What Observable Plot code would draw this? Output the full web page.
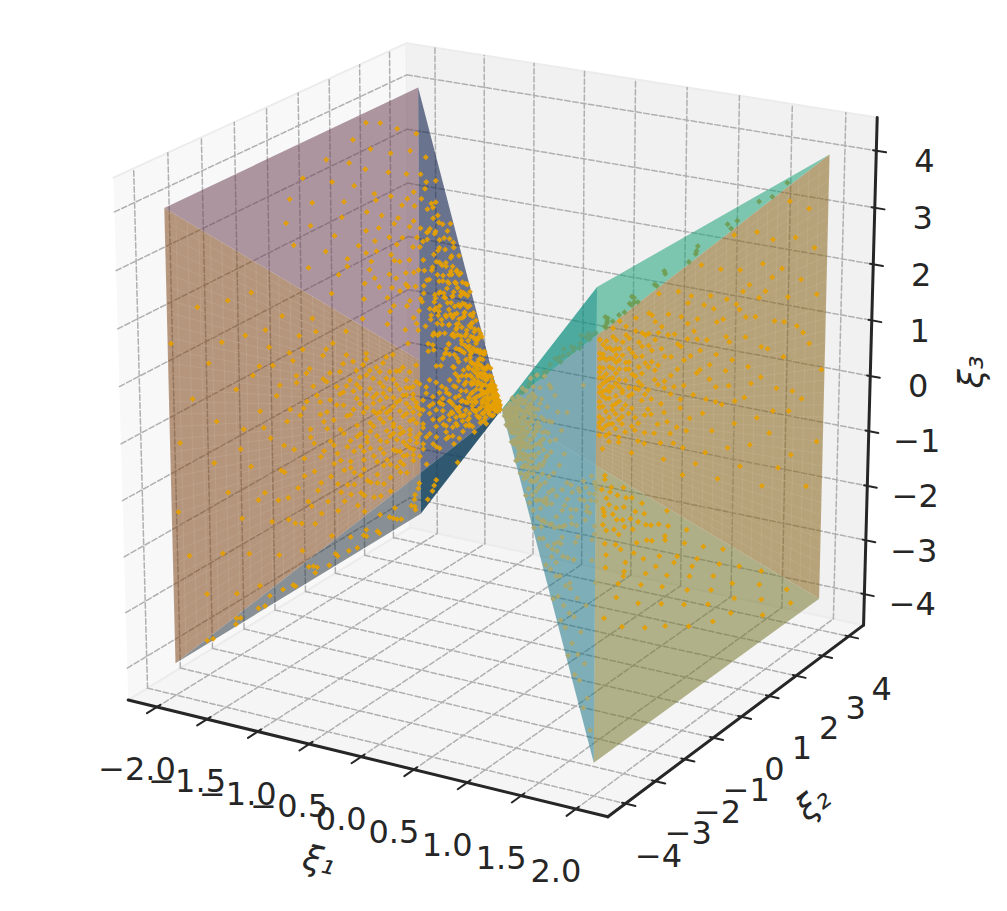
<!doctype html><html><head><meta charset="utf-8">
<script src="https://cdn.jsdelivr.net/npm/d3@7"></script>
<script src="https://cdn.jsdelivr.net/npm/@observablehq/plot@0.6"></script>
<style>html,body{margin:0;background:#fff}</style></head><body><div id="chart"></div>
<script>
// Tick values
const xiTicks1=[-2,-1.5,-1,-.5,0,.5,1,1.5,2];
const xiTicks2=[-4,-3,-2,-1,0,1,2,3,4];
const xiTicks3=[-4,-3,-2,-1,0,1,2,3,4];
// Axis limits
const lim1=2.29, lim2=4.58, lim3=4.58;
// Rim of the double pyramid
const rim1=2, rim2=4, rim3=4;
// Scatter samples, one list per pyramid face: flat pairs (s, t)
// s = |xi1|/2, t = position across the face from -1 to 1
const leftFront=[.99,.42,.97,-.02,.95,-.55,.93,.18,.98,-.33,.91,.62,.9,-.78,.88,.36,.87,-.14,.86,.07,.85,-.62,.84,.48,.83,-.31,.82,.71,.81,-.88,.8,.24,.79,-.48,.78,.02,.77,.55,.77,-.7,.76,-.2,.75,.33,.75,.81,.74,-.93,.73,.12,.72,-.38,.71,.62,.7,-.58,.7,-.05,.69,.41,.68,-.82,.68,.22,.67,-.27,.66,.75,.65,-.47,.65,.05,.64,.52,.63,-.67,.63,-.15,.62,.32,.61,-.9,.61,.66,.6,-.36,.6,.14,.59,-.56,.58,.44,.58,-.08,.57,-.76,.57,.83,.56,.24,.55,-.25,.55,-.46,.54,.57,.54,.03,.53,-.64,.53,.36,.52,-.14,.52,-.95,.51,.7,.51,-.34,.5,.17,.5,-.53,.49,.47,.49,-.05,.48,-.72,.48,.29,.47,-.22,.47,.86,.46,-.43,.46,.08,.45,.6,.45,-.61,.44,-.84,.44,.38,.43,-.12,.43,.19,.42,-.31,.42,-.5,.41,.73,.41,.5,.4,-.02,.4,-.68,.39,.27,.39,-.4,.38,-.18,.38,.62,.37,-.91,.37,.1,.36,-.56,.36,.41,.35,-.28,.35,.79,.34,-.76,.34,.02,.33,.53,.33,-.1,.32,-.45,.32,.23,.31,-.62,.31,.68,.3,-.2,.3,.34,.29,-.84,.29,.07,.28,.47,.28,-.36,.27,-.03,.27,-.53,.26,.18,.26,.88,.25,-.7,.25,.58,.24,-.14,.24,.3,.23,-.4,.23,-.93,.22,.05,.22,.72,.21,-.6,.21,.4,.2,-.25,.2,.12,.19,.52,.19,-.78,.18,-.06,.18,.25,.17,-.46,.17,.66,.16,-.16,.16,.36,.15,-.66,.15,.02,.14,.84,.14,-.32,.13,.2,.13,-.86,.12,.46,.12,-.1,.11,-.52,.11,.1,.1,.62,.1,-.26,.09,.3,.09,-.72,.08,.0,.08,.5,.07,-.4,.07,.16,.06,.78,.06,-.18,.05,-.6,.05,.38,.04,.04,.04,-.3,.03,.6,.03,-.8,.02,.2,.02,-.1,
.43,-.73,.31,.11,.57,.31,.37,-.34,.66,-.11,.29,.58,.48,-.09,.52,.21,.34,-.59,.41,.15,.62,-.43,.33,.86,.45,.31,.39,-.87,.55,-.71,.27,.38,.61,.09,.36,-.03,.47,.64,.31,-.47,.73,.39,.42,-.95,.51,.04,.35,.28,.58,-.61,.44,.52,.28,-.19,.67,.29,.38,.08,.49,-.33,.32,.66,.54,-.21,.41,-.64,.3,.03,.79,-.09,.46,.41,.34,-.22,.56,.74,.27,-.71,.63,.47,.4,.36,.36,.7,.5,-.77,.43,-.25,.29,.22,.6,-.23,.37,.45,.26,-.44,.53,.11,.45,-.49,.33,.17,.7,.52,.39,-.06,.31,-.77,.48,.17,.42,.6,.57,-.35,.28,.72,.35,-.51,.65,-.62,.44,-.03,.3,-.35,.38,.31,.52,.44,.24,.12,.47,-.58,.34,.39,.41,-.17,.59,.19,.32,-.29,.74,-.41,.27,.5,.45,.13,.36,-.79,.55,.09,.29,-.57,.4,.56,.49,.27,.33,-.06,.61,-.7,.43,.46,.26,-.1,.37,.58,.51,-.18,.31,.42,.46,-.69,.25,-.3,.68,-.46,.39,.2,.35,-.14,.54,.38,.28,.16,.42,-.4,.3,.75,.64,.13,.33,-.41,.48,.55,.37,-.24,.27,.3,.58,-.02,.41,.29,.32,-.67,.56,-.51,.24,-.51,.44,.24,.36,.15,.5,-.26,.29,-.42,.38,-.63,.62,.37,.31,.26,.46,-.17,.25,.04,.53,.63,.34,-.94,.42,.1,.28,-.05,.4,-.3,.72,.02,.35,.52,.47,.35,.3,-.69,.43,-.55,.6,.57,.26,.6,.38,-.48,.52,-.44,.33,.29,.45,-.28,.24,-.21,.37,.02,.55,.19,.29,.35,.41,.67,.31,-.13,.49,-.62,.27,-.62,.39,.48,.66,-.29,.35,.09,.44,-.14,.23,.44,.5,.33,.32,.47,.42,-.78,.28,-.27,.36,-.41,.57,-.13,.26,.25,.47,.07,.34,.62,.4,-.11,.3,-.56,.59,.4,.38,-.73,.25,.14,.46,-.37,.33,-.19,.43,.35,.53,-.03,.29,.46,.37,.24,.22,-.36,.41,-.22,.48,-.43,.31,-.22,.36,.33,.27,.09,.21,.25,.39,.11,.26,-.35,.2,-.48,.34,.12,.23,.56,.19,-.11,.28,-.48,.18,.4,.24,-.6,.22,.2,.17,-.3,.21,-.08,.16,.55,.2,-.7,.19,.3,.15,-.4,.18,.1,.14,.2,.17,-.64,.13,.6,.16,-.02,.12,-.3,.15,.28,.11,.42,.14,-.12,.1,-.6,.13,.04];
const leftTop=[.97,.53,.95,.63,.94,.38,.92,.12,.91,.74,.9,-.12,.89,.47,.88,.26,.87,.88,.86,-.32,.85,.05,.85,.61,.84,.35,.83,.78,.82,-.2,.81,.19,.8,.52,.8,-.5,.79,.9,.78,.03,.77,.67,.76,-.36,.76,.31,.75,.8,.74,-.08,.73,.44,.73,-.62,.72,.15,.71,.93,.7,.58,.7,-.26,.69,.26,.68,.72,.67,-.45,.67,.03,.66,.4,.65,.86,.65,-.72,.64,-.14,.63,.54,.62,.2,.62,-.34,.61,.77,.6,-.02,.6,.33,.59,-.56,.58,.65,.57,.1,.57,.96,.56,-.24,.55,.47,.55,-.82,.54,.82,.53,.26,.53,-.42,.52,-.08,.51,.6,.5,.12,.5,.91,.49,-.6,.48,.37,.48,-.18,.47,.72,.46,-.34,.46,.02,.45,.52,.44,.24,.44,-.88,.43,.84,.42,-.48,.42,-.1,.41,.64,.4,.32,.4,.06,.39,-.7,.38,.96,.38,.45,.37,-.26,.36,.16,.36,.76,.35,-.56,.34,.56,.34,-.02,.33,.3,.33,-.38,.32,.88,.31,-.78,.31,.12,.3,.67,.3,-.16,.29,.42,.28,-.46,.27,.22,.27,.8,.26,-.62,.25,-.05,.25,.54,.24,.32,.23,.95,.23,-.3,.22,.1,.21,.7,.21,-.86,.2,-.14,.2,.4,.19,.62,.18,-.48,.17,.2,.17,.88,.16,-.02,.15,.48,.15,-.7,.14,.3,.13,-.22,.13,.76,.12,.08,.11,.56,.11,-.56,.1,.36,.09,-.1,.08,.68,.08,-.38,.07,.14,.06,.9,.05,-.64,.05,.46,.04,.02,.03,.28,.02,-.3,
.62,.47,.55,.09,.71,.67,.48,.63,.58,-.15,.66,.16,.45,.33,.52,.71,.6,.58,.42,.17,.74,.29,.5,-.31,.64,.81,.47,.02,.56,.39,.41,-.2,.69,.5,.53,.89,.44,.6,.59,.23,.38,-.09,.67,.62,.49,.22,.57,.74,.4,.43,.63,.04,.35,.22,.51,.43,.46,-.12,.72,.83,.6,-.41,.43,.5,.54,.14,.37,.6,.65,.33,.48,.84,.41,.07,.58,.49,.33,-.2,.5,-.04,.44,.75,.56,.6,.39,.3,.61,-.13,.36,.46,.47,.47,.53,-.27,.34,.16,.43,-.36,.59,.82,.3,.53,.42,.9,.49,.3,.38,.66,.32,.04,.45,.12,.28,.38,.4,.76,.35,-.3,.26,.2,.37,.1,.31,.72,.29,-.06,.34,.42,.25,.82,.27,-.4,.23,.5,.3,.26,.21,.15,.24,-.2,.19,.34,.22,-.5,.18,.7,.16,.25,.14,-.4,.12,.5,.1,-.3];
const leftBack=[.92,.62,.9,.42,.89,.55,.87,.2,.86,.48,.85,.02,.84,.64,.83,.3,.82,-.16,.81,.12,.8,.52,.79,-.34,.78,.38,.77,-.05,.76,.68,.75,.22,.74,-.46,.74,.56,.73,-.22,.72,.08,.71,.44,.7,-.6,.7,.72,.69,.28,.68,-.12,.67,.6,.66,-.38,.66,.15,.65,.36,.64,-.7,.64,.78,.63,-.02,.62,.5,.62,-.28,.61,.22,.6,-.52,.6,.66,.59,.08,.58,.4,.58,-.16,.57,-.78,.57,.84,.56,.28,.55,-.4,.55,.56,.54,.02,.53,-.64,.53,.7,.52,.16,.51,-.24,.51,.44,.5,-.48,.5,.9,.49,.06,.48,.62,.48,-.32,.47,.3,.46,-.72,.46,.76,.45,-.1,.44,.5,.44,-.56,.43,.18,.42,.86,.42,-.2,.41,.38,.4,-.42,.4,.66,.39,-.02,.38,-.68,.38,.26,.37,.94,.36,-.3,.36,.54,.35,.1,.34,-.5,.34,.74,.33,-.14,.33,.34,.32,-.82,.32,.6,.31,.04,.3,-.38,.3,.84,.29,.22,.29,-.6,.28,.46,.28,-.06,.27,.7,.26,-.26,.26,.12,.25,-.74,.25,.56,.24,.32,.24,-.46,.23,.92,.23,.0,.22,.64,.22,-.18,.21,.24,.21,-.58,.2,.42,.2,.8,.19,-.34,.19,.08,.18,-.86,.18,.52,.17,-.1,.17,.3,.16,-.5,.16,.72,.15,.14,.15,-.24,.14,.58,.14,-.66,.13,.36,.13,.92,.12,-.02,.12,-.4,.11,.2,.11,.66,.1,-.76,.1,.46,.09,-.14,.09,.1,.08,.82,.08,-.54,.07,.3,.07,-.26,.06,.6,.06,-.04,.05,-.7,.05,.4,.04,.16,.04,-.34,.03,.76,.03,-.1,.02,.5,.02,-.6,
.95,.33,.79,.1,.64,.42,.51,-.07,.72,-.35,.43,.61,.58,.23,.37,.14,.83,-.08,.49,-.56,.67,.27,.4,.79,.55,-.2,.34,-.27,.61,-.44,.46,.41,.76,.47,.31,.52,.53,.33,.42,-.3,.68,.02,.36,.42,.47,-.17,.59,.55,.28,.06,.44,.09,.74,.15,.38,-.55,.52,.57,.33,.82,.63,.12,.4,.2,.49,.46,.57,-.31,.3,-.2,.45,.68,.35,-.4,.7,.35,.41,-.12,.54,.18,.27,.33,.48,-.42,.37,.66,.62,-.09,.32,-.08,.43,.28,.5,.73,.35,.24,.66,.5,.29,.6,.56,-.05,.39,-.36,.25,-.14,.47,.14,.6,.32,.33,.49,.44,-.24,.53,-.5,.27,.83,.38,.5,.31,-.52,.42,.04,.58,.63,.24,.18,.36,-.16,.46,.55,.29,-.3,.4,-.62,.22,.52,.51,.27,.34,.03,.26,-.64,.43,.72,.3,.38,.2,-.12,.37,-.08,.48,.2,.23,-.38,.28,.62,.32,-.34,.21,.7,.25,.42,.35,.62,.19,-.52,.27,-.04,.18,.28,.24,-.22,.3,.14,.17,.6,.22,.34,.2,-.24,.26,.5,.16,-.36,.23,.12,.19,.46,.15,.04,.21,-.74,.14,.24,.18,-.06,.13,-.52,.16,.42,.12,.72,.15,-.42,.11,.36,.17,-.2,.1,.02,.14,-.16,.13,.14,.12,.3,.11,-.3,.1,.6,.09,-.4,.09,.36,.08,.12,.08,-.2,.07,.5,.07,-.6,.06,.2,.06,-.4,.05,.1,.05,.7,.04,-.1,.04,.4];
const leftBottom=[.97,-.78,.96,-.62,.95,-.4,.94,-.9,.93,-.18,.92,.1,.92,-.52,.91,.34,.9,-.72,.9,-.06,.89,.52,.88,-.3,.88,.72,.87,.2,.86,-.86,.86,.84,.85,-.46,.84,.04,.83,.42,.83,.62,.82,-.66,.82,-.2,.81,.92,.8,.26,.79,.76,.78,-.1,.77,.5,.76,-.38,.75,.14,.74,.66,.72,-.54,.7,.86,.7,.34,.68,.02,.66,.58,.64,-.28,.62,.78,.6,.2,.58,.44,.56,-.12,.54,.68,.5,.3,.46,.9,.42,.06];
const rightBack=[.99,.05,.98,-.28,.97,.4,.96,.62,.95,-.5,.95,.18,.94,.82,.93,-.08,.92,.5,.91,.28,.9,-.36,.9,.72,.89,-.14,.88,.44,.88,.92,.87,.14,.86,-.44,.86,.6,.85,-.02,.84,.34,.83,.78,.83,-.26,.82,.2,.81,.52,.81,-.56,.8,.05,.8,.68,.79,-.18,.78,.4,.78,.88,.77,-.34,.76,.12,.76,.6,.75,-.06,.75,.3,.74,-.48,.73,.72,.73,.48,.72,-.22,.71,.18,.71,.96,.7,-.38,.7,.02,.69,.58,.69,.34,.68,-.1,.67,.8,.67,-.6,.66,.24,.66,.46,.65,-.28,.64,.08,.64,.66,.63,-.44,.63,.36,.62,-.16,.61,.92,.61,.16,.6,.54,.6,-.54,.59,-.02,.58,.74,.58,.28,.57,-.3,.57,.42,.56,.06,.56,-.66,.55,.62,.55,-.12,.54,.84,.54,.2,.53,-.42,.53,.5,.52,.0,.52,.32,.51,-.24,.51,.7,.5,-.58,.5,.12,.49,.42,.49,-.08,.48,.58,.48,.94,.47,-.36,.47,.24,.46,.78,.46,-.18,.45,.06,.45,.5,.44,-.48,.44,.34,.43,-.04,.43,.66,.42,-.28,.42,.16,.41,.86,.41,.44,.4,-.62,.4,-.12,.4,.26,.39,.56,.39,.02,.38,-.4,.38,.74,.38,.34,.37,-.22,.37,.1,.36,.48,.36,.96,.36,-.54,.35,.2,.35,-.06,.35,.64,.34,-.32,.34,.4,.34,.82,.33,.02,.33,-.46,.33,.28,.32,.56,.32,-.16,.32,.14,.32,.72,.31,-.7,.31,-.28,.31,.46,.31,.06,.3,.9,.3,-.1,.3,.34,.3,-.4,.3,.62,.3,.2,.25,.3,.2,-.2,.15,.5,.1,-.1,
.34,.53,.37,-.13,.32,-.36,.41,.23,.35,.75,.33,.11,.44,-.19,.31,.61,.39,.41,.36,-.03,.47,.53,.33,-.24,.42,.08,.3,.49,.38,.21,.34,.93,.5,-.16,.31,-.09,.45,.29,.36,.62,.32,.36,.41,-.36,.35,.04,.54,.41,.3,-.52,.39,.68,.43,.24,.33,.7,.37,-.31,.48,.1,.31,.24,.35,.47,.42,.58,.3,-.24,.52,.16,.38,.84,.33,-.57,.46,.33,.36,.15,.31,.8,.44,-.37,.4,.04,.34,.28,.57,.54,.32,-.5,.39,.33,.49,.62,.35,-.19,.43,.42,.3,.12,.37,.52,.55,-.05,.31,-.42,.41,.72,.34,-.08,.47,.15,.36,.37,.6,.39,.33,.44,.45,-.13,.3,.7,.38,-.08,.51,.52,.32,.02,.42,-.47,.35,.56,.64,.18,.31,.33,.4,.5,.48,-.27,.36,-.26,.44,.62,.33,.18,.56,.26,.3,-.33,.39,.12,.46,.44,.34,-.14,.62,.62,.32,.26,.43,.12,.35,.33,.53,.06,.31,.66,.41,-.22,.37,.07,.5,.34,.66,-.08,.33,-.33,.45,.82,.38,.42,.3,-.02,.58,-.2,.34,.64,.42,.32,.49,-.44,.36,.24,.69,.12,.31,.13,.4,-.32,.55,.38,.33,.56,.47,.7,.35,-.38,.61,.3,.44,.02,.37,.68,.52,-.34,.3,.42,.72,.52,.39,-.18,.32,.82,.46,-.03,.63,-.06,.34,.16,.57,.7,.41,.1,.75,.42,.48,.28,.36,-.48,.43,.52,.8,.22,.68,.46,.5,.06,.59,.46,.54,-.28,.77,.02,.66,.02,.45,.62,.83,.58,.7,.3,.6,.14,.87,.32,.74,.58,.93,.24,.9,-.04,.84,-.14,.79,.5,.72,-.08,.65,.56,.56,-.44];
const rightBottom=[.96,.84,.94,.62,.92,.92,.9,.72,.88,.46,.87,.3,.86,.82,.85,.58,.84,.12,.83,.94,.82,.38,.81,.68,.8,-.04,.79,.5,.78,.22,.78,.86,.77,-.2,.76,.62,.75,.34,.74,.06,.74,.76,.73,-.38,.72,.46,.71,.92,.7,.18,.7,-.12,.69,.66,.68,-.5,.68,.3,.67,.82,.66,.02,.65,.54,.65,-.28,.64,.14,.63,.72,.62,-.62,.62,.4,.61,-.08,.6,.88,.6,.24,.59,.6,.58,-.4,.58,.04,.57,.48,.56,-.2,.56,.78,.55,.32,.54,-.7,.54,.1,.53,.64,.52,-.3,.52,.96,.51,.42,.5,-.02,.5,.22,.49,-.52,.49,.72,.48,.52,.47,-.14,.47,.12,.46,.84,.46,.36,.45,-.38,.44,.6,.44,.02,.43,-.6,.43,.26,.42,.76,.41,-.22,.41,.46,.4,.1,.39,.9,.39,-.44,.38,.34,.38,.66,.37,-.06,.36,.18,.35,.54,.35,-.3,.34,.82,.33,.4,.33,-.08,.32,.26,.31,.7,.3,-.5,
.47,.66,.36,.42,.52,.09,.41,.33,.58,.64,.33,.62,.44,-.3,.62,-.18,.39,.08,.5,.56,.35,.13,.43,.5,.56,.44,.37,.76,.34,-.2,.48,.22,.4,.7,.6,-.04,.33,.24,.45,.14,.36,.6,.53,-.1,.38,-.22,.31,.48,.42,.3,.54,.72,.35,.36,.46,-.06,.32,.1,.39,.52,.49,.36,.34,.58,.66,.46,.41,-.04,.37,.28,.3,.2,.57,.2,.43,.82,.36,-.14,.7,.56,.47,.42,.33,.9,.52,.6,.38,.14,.64,.28,.44,.38];
const rightTop=[.94,.78,.9,.62,.86,.88,.83,.5,.8,.7,.76,.38,.74,.84,.7,.56,.68,.22,.66,.7,.63,.4,.6,.86,.58,.1,.56,.52,.54,.28,.52,.74,.5,-.04,.49,.42,.47,.6,.46,.16,.44,.84,.43,-.22,.42,.34,.41,.64,.4,.04,.39,.5,.38,-.4,.37,.76,.36,.2,.35,-.1,.34,.56,.33,.9,.32,.3,.31,-.32,.3,.7,.28,.08,.27,.46,.26,-.2,.25,.86,.24,.24,.22,-.5,.21,.6,.2,.02,.18,.36,.16,-.3,.14,.7,.12,.12,.1,-.14,.08,.44,.05,.1,.34,.46,.36,.64,.31,.2,.4,.82,.29,-.1,.26,.4,.45,.66];
const rightFront=[.96,-.92,.93,-.82,.9,-.7,.89,-.93,.86,-.6,.85,-.86,.83,-.76,.82,-.48,.8,-.92,.79,-.62,.78,-.32,.77,-.8,.76,-.14,.75,-.52,.74,-.68,.73,-.95,.72,-.38,.71,.06,.7,-.84,.7,-.58,.69,-.22,.68,.22,.68,-.74,.67,-.44,.66,-.02,.65,-.9,.65,.36,.64,-.62,.63,-.3,.63,.12,.62,-.8,.61,.48,.61,-.5,.6,-.12,.6,-.7,.59,.28,.58,-.38,.58,.6,.57,-.94,.57,.02,.56,-.58,.55,-.24,.55,.4,.54,-.78,.54,.16,.53,-.44,.52,.7,.52,-.06,.51,-.66,.51,.3,.5,-.32,.5,.52,.49,-.88,.49,.08,.48,-.52,.48,-.16,.47,.4,.47,.8,.46,-.72,.46,.22,.45,-.38,.45,-.04,.44,.6,.44,-.6,.43,.14,.43,-.26,.42,.32,.42,-.84,.42,.72,.41,-.46,.41,.04,.4,.5,.4,-.14,.4,-.68,.39,.26,.39,.88,.38,-.32,.38,.1,.38,-.54,.37,.42,.37,.64,.36,-.94,.36,-.2,.36,.18,.35,-.76,.35,-.4,.35,.78,.34,.02,.34,.34,.34,-.6,.33,.54,.33,-.1,.33,-.28,.32,.24,.32,-.48,.32,.92,.31,.08,.31,-.82,.31,.44,.3,-.18,.3,.68,.3,-.66,.29,.3,.29,-.36,.29,-.02,.28,.52,.28,-.56,.28,.14,.27,.8,.27,-.24,.27,-.9,.26,.38,.26,.04,.26,-.44,.25,.6,.25,-.72,.25,.2,.24,-.12,.24,.46,.24,-.3,.23,.9,.23,.1,.23,-.6,.22,.3,.22,-.2,.22,.7,.21,-.84,.21,.02,.21,-.42,.2,.5,.2,-.08,.2,.2,.19,-.54,.19,.62,.19,-.26,.18,.36,.18,-.7,.18,.82,.17,.06,.17,-.36,.17,.44,.16,-.14,.16,-.92,.16,.26,.15,.58,.15,-.5,.15,.12,.14,-.22,.14,.74,.14,.34,.13,-.66,.13,.0,.13,.48,.12,-.32,.12,.92,.12,.18,.11,-.08,.11,-.8,.11,.6,.1,.3,.1,-.44,.09,.08,.09,.78,.08,-.2,.08,.42,.07,-.6,.07,.14,.06,.66,.06,-.3,.05,.24,.05,-.86,.04,.52,.04,-.04,.03,-.5,.03,.3,
.43,.18,.36,-.05,.52,-.19,.29,.16,.47,.02,.33,.38,.6,-.27,.41,-.33,.25,-.5,.55,-.4,.35,.62,.45,.28,.31,-.24,.66,-.33,.38,-.44,.27,.46,.5,.1,.42,-.07,.34,-.17,.58,-.5,.3,.56,.46,-.55,.37,.24,.24,.02,.53,.24,.4,.36,.32,-.02,.62,-.42,.28,-.4,.44,.42,.36,.5,.26,.28,.49,-.28,.39,-.16,.31,.32,.56,-.12,.23,-.2,.41,.14,.34,.7,.47,-.36,.29,-.5,.37,-.06,.52,.4,.25,.36,.43,-.5,.33,.1,.45,-.12,.3,.26,.22,.46,.6,-.6,.38,.3,.27,-.12,.48,.3,.35,-.3,.21,-.3,.42,.56,.32,.58,.28,.3,.55,-.66,.4,-.24,.24,.6,.36,.66,.46,.12,.3,-.42,.26,.14,.2,.08,.33,.44,.39,-.52,.23,.36,.29,.46,.19,-.42,.25,-.08,.34,-.42,.44,-.66,.22,-.1,.31,.5,.18,.24,.27,.64,.21,.5,.35,.2,.17,-.1,.24,-.36,.2,.7,.16,.36,.28,-.28,.19,.12,.23,-.46,.15,.3,.26,-.6,.18,.54,.22,.14,.14,-.46,.17,.2,.21,-.16,.13,.3,.16,.5,.2,-.36,.12,-.14,.15,-.04,.19,-.66,.11,.26,.14,.56,.18,-.18,.1,.5,.13,-.3,.17,.7,.09,-.26,.12,.04,.16,-.48,.08,.26,.11,-.44,.15,.74,.1,-.1,.09,.44,.07,-.1,.06,.36,.05,-.14];
// Apparent surface tints
const surfaceTints={purple:[171,147,158],tan:[178,148,122],grey:[133,140,146],slate:[107,116,142],dark:[48,88,112],green:[125,198,175],sand:[183,163,122],olive:[175,175,135],teal:[78,170,160],mist:[125,170,178],blue:[125,173,183]};

// Camera: homogeneous 3x4 matrix of the view
const camera=[97.598553,34.798216,-2.0784,501.372167,15.673589,-13.749381,-57.883432,408.865113,-.012126,.0097,-.004133];
const project=([x,y,z])=>{const c=camera,w=c[8]*x+c[9]*y+c[10]*z+1;return [(c[0]*x+c[1]*y+c[2]*z+c[3])/w,(c[4]*x+c[5]*y+c[6]*z+c[7])/w];};
const pairs=a=>d3.range(0,a.length,2).map(i=>[a[i],a[i+1]]);
const seg=(p,q,props={})=>[project(p),project(q)].map(([X,Y])=>({X,Y,...props}));
const meet=(a,b,c,d)=>{const [x1,y1]=a,[x2,y2]=b,[x3,y3]=c,[x4,y4]=d,den=(x1-x2)*(y3-y4)-(y1-y2)*(x3-x4),t=((x1-x3)*(y3-y4)-(y1-y3)*(x3-x4))/den;return [x1+t*(x2-x1),y1+t*(y2-y1)];};

const P={A:project([-rim1,-rim2,rim3]),B:project([-rim1,-rim2,-rim3]),C:project([-rim1,rim2,rim3]),D:project([-rim1,rim2,-rim3]),
E:project([rim1,rim2,rim3]),F:project([rim1,rim2,-rim3]),G:project([rim1,-rim2,rim3]),H:project([rim1,-rim2,-rim3]),O:project([0,0,0])};
P.P1=meet(P.A,P.O,P.C,P.D);P.P2=meet(P.B,P.O,P.C,P.D);P.Q1=meet(P.E,P.O,P.G,P.H);P.Q2=meet(P.F,P.O,P.G,P.H);
const regions=[["purple",.55,"A C P1"],["tan",.55,"A B P2 P1"],["grey",.55,"B D P2"],["slate",.6,"C O P2"],["dark",.85,"P2 O D"],
["green",.55,"G E Q1"],["sand",.55,"E F Q2 Q1"],["olive",.55,"H F Q2"],["teal",.7,"G O Q1"],["mist",.55,"O Q1 Q2"],["blue",.55,"O Q2 H"]];
const tint=(name,a)=>{const c=surfaceTints[name].map(v=>Math.max(0,Math.min(255,Math.round((v-(1-a)*243)/a))));return `rgb(${c})`;};
const polygon=(pts,fill,fillOpacity=1,extra={})=>Plot.line(pts.map(([X,Y])=>({X,Y})),{x:"X",y:"Y",fill,fillOpacity,stroke:"none",...extra});

// Panes
const cube=(a,b,c)=>project([a*lim1,b*lim2,c*lim3]);
const panes=[[[cube(-1,-1,-1),cube(1,-1,-1),cube(1,1,-1),cube(-1,1,-1)],"#f5f5f5"],
[[cube(-1,-1,-1),cube(-1,1,-1),cube(-1,1,1),cube(-1,-1,1)],"#f8f8f8"],
[[cube(-1,1,-1),cube(1,1,-1),cube(1,1,1),cube(-1,1,1)],"#f1f1f1"]];

// Grid
const gridRows=[];let gid=0;
const addGrid=(p,q)=>{gid++;seg(p,q,{id:gid}).forEach(r=>gridRows.push(r));};
for(const x of xiTicks1){addGrid([x,-lim2,-lim3],[x,lim2,-lim3]);addGrid([x,lim2,-lim3],[x,lim2,lim3]);}
for(const y of xiTicks2){addGrid([-lim1,y,-lim3],[lim1,y,-lim3]);addGrid([-lim1,y,-lim3],[-lim1,y,lim3]);}
for(const z of xiTicks3){addGrid([-lim1,-lim2,z],[-lim1,lim2,z]);addGrid([-lim1,lim2,z],[lim1,lim2,z]);}

// Faint surface mesh
const meshRows=[];let mid=0;
const addMesh=(f,sMin)=>{for(let i=0;i<=22;i++){const s=sMin+(1-sMin)*i/22;mid++;[-1,1].forEach(t=>{const [X,Y]=project(f(s,t));meshRows.push({X,Y,id:mid});});}
 for(let i=0;i<=36;i++){const t=-1+i/18;mid++;[sMin,1].forEach(s=>{const [X,Y]=project(f(s,t));meshRows.push({X,Y,id:mid});});}};
addMesh((s,t)=>[-2*s,-4*s,4*s*t],.27);
addMesh((s,t)=>[2*s,4*s,4*s*t],.31);

// Dots
const F={leftFront:(s,t)=>[-2*s,-4*s,4*s*t],leftTop:(s,t)=>[-2*s,4*s*t,4*s],leftBack:(s,t)=>[-2*s,4*s,4*s*t],leftBottom:(s,t)=>[-2*s,4*s*t,-4*s],
rightBack:(s,t)=>[2*s,4*s,4*s*t],rightFront:(s,t)=>[2*s,-4*s,4*s*t],rightTop:(s,t)=>[2*s,4*s*t,4*s],rightBottom:(s,t)=>[2*s,4*s*t,-4*s]};
const lists={leftBack,leftBottom,leftTop,leftFront,rightBack,rightBottom,rightTop,rightFront};
const dots=[];
for(const [name,list] of Object.entries(lists)) for(const [s,t] of pairs(list)){
 const [X,Y]=project(F[name](s,t));
 const left=name.startsWith("left");
 let fill="#e69f00";
 if(!left){ if(name==="rightTop") fill=X<P.G[0]?"#5f9f7a":"#6f9c52"; else if(name==="rightFront"||X<P.G[0]) fill="#a9a76f"; }
 dots.push({X,Y,fill});
}

const axisLine=(p,q)=>Plot.line(seg(p,q),{x:"X",y:"Y",stroke:"#262626",strokeWidth:3});
const tickRows=[];let tid=0;
const addTick=(p,q)=>{tid++;seg(p,q,{id:tid}).forEach(r=>tickRows.push(r));};
for(const x of xiTicks1) addTick([x,-lim2-.3,-lim3],[x,-lim2+.1,-lim3]);
for(const y of xiTicks2) addTick([lim1+.09,y,-lim3],[lim1-.03,y,-lim3]);
for(const z of xiTicks3) addTick([lim1+.09,lim2,z],[lim1-.03,lim2,z]);
const fmt=(v,d)=>(v<0?"\u2212":"")+Math.abs(v).toFixed(d);
const labels=(ticks,pos,d,dx,dy)=>Plot.text(ticks.map(v=>{const [X,Y]=project(pos(v));return {X,Y,t:fmt(v,d)};}),{x:"X",y:"Y",text:"t",dx,dy,fontSize:32,fontFamily:"DejaVu Sans",fill:"#262626",textAnchor:"middle",lineAnchor:"middle"});
const axisTitle=(pos,text,dx,dy,rotate)=>{const [X,Y]=project(pos);return Plot.text([{X,Y}],{x:"X",y:"Y",text:()=>text,dx,dy,rotate,fontSize:34,fontFamily:"DejaVu Sans",fontStyle:"italic",fill:"#262626",textAnchor:"middle",lineAnchor:"middle"});};

const chart=Plot.plot({width:1007,height:911,margin:0,style:{background:"#fff"},
 x:{type:"identity",axis:null},y:{type:"identity",axis:null},
 marks:[
 ...panes.map(([p,c])=>polygon(p,c,1,{stroke:"#ececec",strokeWidth:2})),
 Plot.line(gridRows,{x:"X",y:"Y",z:"id",stroke:"#b0b0b0",strokeWidth:1.5,strokeDasharray:"5.5,2.5"}),
 ...regions.map(([n,a,v])=>polygon(v.split(" ").map(k=>P[k]),tint(n,a),a)),
 Plot.line(meshRows,{x:"X",y:"Y",z:"id",stroke:"#fff",strokeOpacity:.1,strokeWidth:.8}),
 Plot.dot(dots,{x:"X",y:"Y",r:2.7,fill:"fill",stroke:"none",fillOpacity:.92,symbol:"diamond2"}),
 axisLine([-lim1,-lim2,-lim3],[lim1,-lim2,-lim3]),
 axisLine([lim1,-lim2,-lim3],[lim1,lim2,-lim3]),
 axisLine([lim1,lim2,-lim3],[lim1,lim2,lim3]),
 Plot.line(tickRows,{x:"X",y:"Y",z:"id",stroke:"#262626",strokeWidth:2}),
 labels(xiTicks1,v=>[v,-lim2,-lim3],1,-20,63),
 labels(xiTicks2,v=>[lim1,v,-lim3],0,33,53),
 labels(xiTicks3,v=>[lim1,lim2,v],0,48,11),
 axisTitle([0,-lim2,-lim3],"\u03be\u2081",-42,104,13),
 axisTitle([lim1,0,-lim3],"\u03be\u2082",72,87,-37),
 axisTitle([lim1,lim2,0],"\u03be\u2083",102,-4,-90)
 ]});
document.getElementById("chart").append(chart);
</script></body></html>
